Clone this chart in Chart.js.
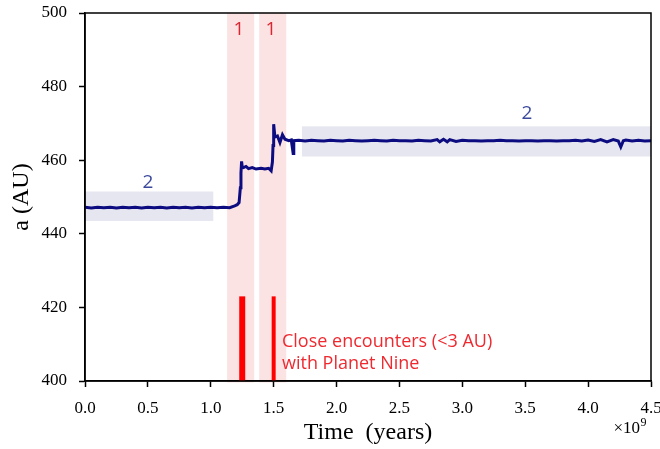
<!DOCTYPE html>
<html>
<head>
<meta charset="utf-8">
<script src="https://cdn.jsdelivr.net/npm/chart.js@4/dist/chart.umd.min.js"></script>
<style>
  html, body { margin: 0; padding: 0; background: #fff; }
  #wrap { width: 660px; height: 449px; }
</style>
</head>
<body>
<div id="wrap"><canvas id="sma-chart" width="660" height="449"></canvas></div>
<script>
// time in units of 1e9 years, semi-major axis in AU
const times = [
  0.00, 0.05, 0.10, 0.15, 0.20, 0.25, 0.30, 0.35, 0.40, 0.45,
  0.50, 0.55, 0.60, 0.65, 0.70, 0.75, 0.80, 0.85, 0.90, 0.95,
  1.00, 1.05, 1.10, 1.15, 1.19, 1.21, 1.225, 1.235, 1.24, 1.245,
  1.25, 1.26, 1.28, 1.30, 1.33, 1.36, 1.40, 1.43, 1.46, 1.48,
  1.49, 1.495, 1.50, 1.51, 1.53, 1.55, 1.57, 1.59, 1.62, 1.64,
  1.655, 1.66, 1.70, 1.75, 1.80, 1.85, 1.90, 1.95, 2.00, 2.05,
  2.10, 2.15, 2.20, 2.25, 2.30, 2.35, 2.40, 2.45, 2.50, 2.55,
  2.60, 2.65, 2.70, 2.75, 2.80, 2.82, 2.85, 2.88, 2.90, 2.95,
  3.00, 3.05, 3.10, 3.15, 3.20, 3.25, 3.30, 3.35, 3.40, 3.45,
  3.50, 3.55, 3.60, 3.65, 3.70, 3.75, 3.80, 3.85, 3.90, 3.95,
  4.00, 4.05, 4.10, 4.15, 4.20, 4.24, 4.26, 4.28, 4.30, 4.35,
  4.40, 4.45, 4.50
];
const semiMajor = [
  447.2, 447.0, 447.2, 447.1, 447.2, 447.0, 447.2, 447.1, 447.2, 447.0,
  447.2, 447.1, 447.2, 447.0, 447.2, 447.1, 447.2, 447.0, 447.2, 447.1,
  447.2, 447.1, 447.2, 447.1, 447.6, 447.9, 448.5, 452.5, 456.5, 459.7,
  458.2, 458.0, 458.3, 457.7, 458.0, 457.6, 457.8, 457.6, 457.8, 457.1,
  459.5, 464.0, 469.8, 466.3, 466.6, 464.8, 466.9, 465.7, 465.3, 465.5,
  461.8, 465.3, 465.4, 465.2, 465.4, 465.3, 465.2, 465.4, 465.3, 465.2,
  465.4, 465.3, 465.2, 465.3, 465.4, 465.3, 465.2, 465.4, 465.3, 465.3,
  465.2, 465.4, 465.3, 465.2, 465.6, 465.0, 465.7, 465.0, 465.6, 465.1,
  465.4, 465.3, 465.3, 465.2, 465.3, 465.3, 465.4, 465.3, 465.3, 465.2,
  465.3, 465.3, 465.2, 465.3, 465.3, 465.2, 465.3, 465.3, 465.4, 465.2,
  465.5, 465.1, 465.6, 465.0, 465.6, 465.2, 463.6, 465.3, 465.5, 465.2,
  465.4, 465.2, 465.3
];

// close encounters with Planet Nine
const encounterTimes = [1.25, 1.50];
const encounterTop = 423;
const encounterWidths = [6, 4];

// shaded spans: [xStart, xEnd, yLow, yHigh]
const resonantSpans = [[0.0, 1.02, 443.5, 451.5], [1.725, 4.5, 461.0, 469.2]];
const encounterSpans = [[1.13, 1.345], [1.385, 1.60]];

// region labels: [text, x, y, colour]
const regionLabels = [
  ['1', 1.224, 495.5, '#d9262f'],
  ['1', 1.479, 495.5, '#d9262f'],
  ['2', 0.50, 453.9, '#3b4a9c'],
  ['2', 3.514, 472.6, '#3b4a9c']
];
const noteLines = ['Close encounters (<3 AU)', 'with Planet Nine'];
const noteX = 1.566;
const noteY = [409.3, 403.3];

const xTicks = [0, 0.5, 1.0, 1.5, 2.0, 2.5, 3.0, 3.5, 4.0, 4.5];
const yTicks = [400, 420, 440, 460, 480, 500];

const serif = "'Liberation Serif', 'DejaVu Serif', serif";

const shading = {
  id: 'shading',
  beforeDraw(chart) {
    const {ctx, chartArea, scales: {x, y}} = chart;
    ctx.save();
    ctx.fillStyle = '#fbe3e3';
    encounterSpans.forEach(s => {
      const x0 = x.getPixelForValue(s[0]), x1 = x.getPixelForValue(s[1]);
      ctx.fillRect(x0, chartArea.top, x1 - x0, chartArea.bottom - chartArea.top + 1.5);
    });
    ctx.fillStyle = '#e6e6f0';
    resonantSpans.forEach(s => {
      const x0 = x.getPixelForValue(s[0]), x1 = x.getPixelForValue(s[1]);
      const y0 = y.getPixelForValue(s[3]), y1 = y.getPixelForValue(s[2]);
      ctx.fillRect(x0, y0, x1 - x0, y1 - y0);
    });
    ctx.restore();
  }
};

const annotations = {
  id: 'annotations',
  afterDatasetsDraw(chart) {
    const {ctx, chartArea, scales: {x, y}} = chart;
    ctx.save();
    ctx.font = "19px 'Open Sans', sans-serif";
    ctx.textAlign = 'center';
    ctx.textBaseline = 'middle';
    regionLabels.forEach(l => {
      ctx.fillStyle = l[3];
      ctx.fillText(l[0], x.getPixelForValue(l[1]), y.getPixelForValue(l[2]));
    });
    ctx.font = "18px 'Open Sans', sans-serif";
    ctx.fillStyle = '#ee2a30';
    ctx.textAlign = 'left';
    ctx.textBaseline = 'alphabetic';
    noteLines.forEach((t, i) => {
      ctx.fillText(t, x.getPixelForValue(noteX), y.getPixelForValue(noteY[i]));
    });

    // top and right spines
    ctx.strokeStyle = '#000';
    ctx.lineWidth = 1.5;
    ctx.strokeRect(chartArea.left, chartArea.top, chartArea.right - chartArea.left, chartArea.bottom - chartArea.top);

    // offset label of the x axis
    ctx.fillStyle = '#000';
    ctx.font = '17px ' + serif;
    ctx.textAlign = 'right';
    ctx.fillText('\u00d710', 640, 433);
    ctx.font = '12px ' + serif;
    ctx.textAlign = 'left';
    ctx.fillText('9', 640.5, 426);
    ctx.restore();
  }
};

const datasets = [{
  data: times.map((t, i) => ({x: t, y: semiMajor[i]})),
  borderColor: '#0c0c80',
  borderWidth: 3,
  pointRadius: 0,
  tension: 0
}];
encounterTimes.forEach((t, i) => {
  datasets.push({
    data: [{x: t, y: 400}, {x: t, y: encounterTop}],
    borderColor: '#ff0000',
    borderWidth: encounterWidths[i],
    borderCapStyle: 'butt',
    pointRadius: 0
  });
});

new Chart(document.getElementById('sma-chart'), {
  type: 'line',
  data: { datasets: datasets },
  plugins: [shading, annotations],
  options: {
    responsive: false,
    animation: false,
    events: [],
    layout: { padding: { top: 13, right: 9, left: 0, bottom: 0 } },
    plugins: {
      legend: { display: false },
      tooltip: { enabled: false }
    },
    scales: {
      x: {
        type: 'linear',
        min: 0,
        max: 4.5,
        afterFit(scale) {
          scale.height = 68;
          scale.paddingLeft = 0;
          scale.paddingRight = 0;
        },
        afterBuildTicks(scale) { scale.ticks = xTicks.map(v => ({value: v})); },
        ticks: {
          color: '#000',
          padding: 11,
          maxRotation: 0,
          font: { family: serif, size: 17 },
          callback: v => v.toFixed(1)
        },
        grid: { drawOnChartArea: false, drawTicks: true, tickLength: 6, tickWidth: 1.5, color: '#000' },
        border: { display: true, color: '#000', width: 1.5 },
        title: {
          display: true,
          text: 'Time  (years)',
          color: '#000',
          font: { family: serif, size: 24 },
          padding: { top: 0, bottom: 2 }
        }
      },
      y: {
        min: 400,
        max: 500,
        afterFit(scale) {
          scale.width = 85;
          scale.paddingTop = 0;
          scale.paddingBottom = 0;
        },
        afterBuildTicks(scale) { scale.ticks = yTicks.map(v => ({value: v})); },
        ticks: {
          color: '#000',
          padding: 12,
          font: { family: serif, size: 17 }
        },
        grid: { drawOnChartArea: false, drawTicks: true, tickLength: 6, tickWidth: 1.5, color: '#000' },
        border: { display: true, color: '#000', width: 1.5 },
        title: {
          display: true,
          text: 'a (AU)',
          color: '#000',
          font: { family: serif, size: 24 },
          padding: { top: 7, bottom: 0 }
        }
      }
    }
  }
});
</script>
</body>
</html>
